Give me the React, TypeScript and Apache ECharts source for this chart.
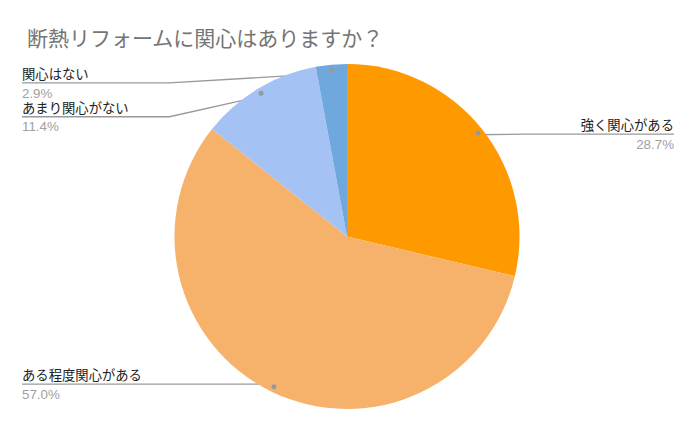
import React, { useEffect, useRef } from "react";
import * as echarts from "echarts";

const title = "断熱リフォームに関心はありますか？";
const categories = ["強く関心がある", "ある程度関心がある", "あまり関心がない", "関心はない"];
const values = [28.7, 57.0, 11.4, 2.9];
const colors = ["#FF9900", "#F6B26B", "#A4C2F4", "#6FA8DC"];

const W = 696;
const H = 431;
const TOP = 66;
const CX = 347;
const CY = 236.5;
const R = 172.5;
const DOT_INSET = 8.5;
const NAME_LH = 18;
const PCT_LH = 19;
const TEXT_DROP = 3;
const FONT = '"Liberation Sans", Arial, "Noto Sans CJK JP", sans-serif';
const TITLE_FONT = 'Roboto, "Noto Sans CJK JP", sans-serif';

export default function App() {
  const ref = useRef<HTMLDivElement>(null);
  useEffect(() => {
    if (!ref.current) return;
    const chart = echarts.init(ref.current, undefined, { renderer: "svg" });
    const data = categories.map((name, i) => ({
      name,
      value: values[i],
      itemStyle: { color: colors[i] },
    }));
    chart.setOption({
      animation: false,
      backgroundColor: "#ffffff",
      title: {
        text: title,
        left: 22,
        top: 23,
        textStyle: {
          fontSize: 21,
          color: "#757575",
          fontWeight: "normal",
          fontFamily: TITLE_FONT,
        },
      },
      series: [
        {
          type: "pie",
          top: TOP,
          left: 0,
          right: 0,
          bottom: 0,
          center: [CX, CY - TOP],
          radius: R,
          startAngle: 90,
          clockwise: true,
          silent: true,
          data,
          label: {
            show: true,
            position: "outer",
            alignTo: "edge",
            edgeDistance: 22,
            formatter: (p: any) => `{n|${p.name}}\n{p|${p.percent.toFixed(1)}%}`,
            rich: {
              n: { fontSize: 13.33, lineHeight: NAME_LH, color: "#222222", fontFamily: FONT },
              p: { fontSize: 13.33, lineHeight: PCT_LH, color: "#a0a0a0", fontFamily: FONT },
            },
          },
          labelLine: {
            show: true,
            length: -8,
            length2: 0,
            lineStyle: { color: "#999999", width: 1.3 },
          },
          labelLayout: (params: any) => {
            const pts = params.labelLinePoints;
            const rect = params.labelRect;
            if (!pts || !rect) return {};
            const p0 = pts[0];
            const dx = p0[0] - CX;
            const dy = p0[1] - CY;
            const len = Math.hypot(dx, dy) || 1;
            const dot = [CX + (dx / len) * (R - DOT_INSET), CY + (dy / len) * (R - DOT_INSET)];
            const left = dx < 0;
            const shift = rect.height / 2 - NAME_LH;
            const lineY = rect.y + shift + NAME_LH;
            const elbowX = left ? CX - R - 5 : CX + R + 5;
            const farX = left ? rect.x : rect.x + rect.width;
            return {
              dy: shift + TEXT_DROP,
              labelLinePoints: [dot, [elbowX, lineY], [farX, lineY]],
            };
          },
        },
        {
          type: "pie",
          z: 5,
          top: TOP,
          left: 0,
          right: 0,
          bottom: 0,
          center: [CX, CY - TOP],
          radius: [R - 2 * DOT_INSET, R],
          startAngle: 90,
          clockwise: true,
          silent: true,
          data: categories.map((name, i) => ({
            name,
            value: values[i],
            itemStyle: { color: "rgba(0,0,0,0)" },
          })),
          label: {
            show: true,
            position: "inside",
            formatter: "{d| }",
            rich: {
              d: {
                width: 5,
                height: 5,
                lineHeight: 5,
                fontSize: 1,
                borderRadius: 2.5,
                backgroundColor: "#999999",
              },
            },
          },
          labelLine: { show: false },
        },
      ],
    });
    return () => chart.dispose();
  }, []);
  return (
    <div
      ref={ref}
      style={{ position: "fixed", left: 0, top: 0, width: W, height: H }}
    />
  );
}
